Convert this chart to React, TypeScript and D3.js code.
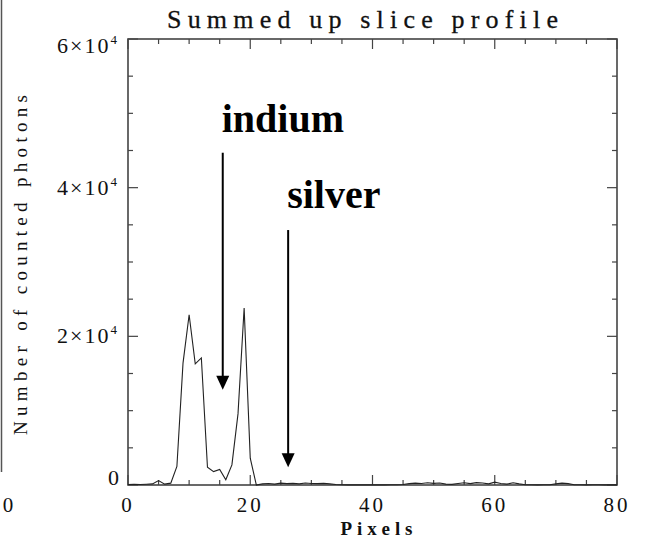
import * as d3 from "d3";

// Summed slice profile: counts per pixel
const pixels = d3.range(0, 81);
const counts = [
  60, 80, 60, 100, 150, 600, 120, 250, 2500, 16400,
  22900, 16300, 17100, 2400, 1800, 2100, 700, 2700, 9600, 23800,
  3600, 0, 150, 200, 120, 250, 180, 220, 150, 260,
  200, 180, 220, 150, 60, 30, 20, 40, 20, 30,
  20, 30, 20, 40, 30, 60, 180, 250, 200, 300,
  220, 260, 120, 80, 200, 300, 180, 320, 260, 150,
  380, 200, 120, 300, 150, 40, 30, 20, 40, 30,
  150, 250, 180, 40, 30, 20, 40, 30, 20, 30, 20,
];

const xMajor = [0, 20, 40, 60, 80];
const yMajor = [0, 20000, 40000, 60000];
const yLabels = ["0", "2×10", "4×10", "6×10"];

// annotations: label, x (pixel), text baseline, arrow top and tip (counts)
const notes = [
  { label: "indium", x: 15.5, textY: 47500, top: 44700, tip: 12800 },
  { label: "silver", x: 26.2, textY: 37300, top: 34300, tip: 2400 },
];

const W = 648;
const H = 542;
const left = 128, right = 617, top = 39, bottom = 485;

const serif = "'Liberation Serif', 'Times New Roman', serif";

export default function App() {
  const x = d3.scaleLinear().domain([0, 80]).range([left, right]);
  const y = d3.scaleLinear().domain([0, 60000]).range([bottom, top]);

  const line = d3
    .line<number>()
    .x((_, i) => x(pixels[i]))
    .y((d) => y(d));

  const xMinor = d3.range(0, 81, 5).filter((v) => !xMajor.includes(v));
  const yMinor = d3.range(0, 60001, 5000).filter((v) => !yMajor.includes(v));
  const axisColor = "#444";

  return (
    <svg
      width={W}
      height={H}
      viewBox={`0 0 ${W} ${H}`}
      style={{ position: "absolute", left: 0, top: 0, background: "#fff" }}
    >
      {/* edge of the neighbouring panel */}
      <line x1={1.5} x2={1.5} y1={0} y2={472} stroke="#555" strokeWidth={1.5} />
      <text x={8} y={512} fontFamily={serif} fontSize="21px" textAnchor="middle" fill="#111">0</text>

      <text
        x={(left + right) / 2 - 10}
        y={28}
        fontFamily={serif}
        fontSize="26px"
        textAnchor="middle"
        textLength={391}
        lengthAdjust="spacing"
        fill="#111"
        stroke="#111"
        strokeWidth={0.3}
      >
        Summed up slice profile
      </text>

      {/* frame */}
      <rect
        x={left}
        y={top}
        width={right - left}
        height={bottom - top}
        fill="none"
        stroke={axisColor}
        strokeWidth={1.6}
      />

      {/* x ticks, bottom and top */}
      {xMajor.concat(xMinor).map((v) => {
        const len = xMajor.includes(v) ? 10 : 5;
        return (
          <g key={"x" + v} stroke={axisColor} strokeWidth={1.2}>
            <line x1={x(v)} x2={x(v)} y1={bottom} y2={bottom - len} />
            <line x1={x(v)} x2={x(v)} y1={top} y2={top + len} />
          </g>
        );
      })}
      {/* y ticks, left and right */}
      {yMajor.concat(yMinor).map((v) => {
        const len = yMajor.includes(v) ? 10 : 5;
        return (
          <g key={"y" + v} stroke={axisColor} strokeWidth={1.2}>
            <line x1={left} x2={left + len} y1={y(v)} y2={y(v)} />
            <line x1={right} x2={right - len} y1={y(v)} y2={y(v)} />
          </g>
        );
      })}

      {xMajor.map((v) => (
        <text
          key={"xl" + v}
          x={x(v)}
          y={512}
          fontFamily={serif}
          fontSize="21px"
          letterSpacing={3}
          textAnchor="middle"
          fill="#111"
        >
          {v}
        </text>
      ))}
      {yMajor.map((v, i) => (
        <text
          key={"yl" + v}
          x={i === 0 ? 121 : 119}
          y={y(v) + (i === 0 ? 0 : i === 3 ? 14 : 7)}
          fontFamily={serif}
          fontSize="22px"
          letterSpacing={2}
          textAnchor="end"
          fill="#111"
        >
          {yLabels[i]}
          {i > 0 && (
            <tspan fontSize="13px" dy={-9}>
              4
            </tspan>
          )}
        </text>
      ))}

      <text
        x={(left + right) / 2 + 4}
        y={535}
        fontFamily={serif}
        fontSize="19px"
        fontWeight="bold"
        textAnchor="middle"
        textLength={72}
        lengthAdjust="spacing"
        fill="#111"
      >
        Pixels
      </text>
      <text
        transform={`translate(27, 265) rotate(-90)`}
        fontFamily={serif}
        fontSize="19px"
        textAnchor="middle"
        textLength={340}
        lengthAdjust="spacing"
        fill="#111"
      >
        Number of counted photons
      </text>

      <path d={line(counts) ?? ""} fill="none" stroke="#222" strokeWidth={1.1} />

      {notes.map((n) => {
        const ax = x(n.x);
        const tipY = y(n.tip);
        return (
          <g key={n.label}>
            <text
              x={ax - 1}
              y={y(n.textY)}
              fontFamily="'Liberation Serif', serif"
              fontSize="40px"
              fontWeight="bold"
              fill="#000"
            >
              {n.label}
            </text>
            <line x1={ax} x2={ax} y1={y(n.top)} y2={tipY - 12} stroke="#000" strokeWidth={2} />
            <polygon
              points={`${ax - 6.5},${tipY - 14} ${ax + 6.5},${tipY - 14} ${ax},${tipY}`}
              fill="#000"
            />
          </g>
        );
      })}
    </svg>
  );
}
